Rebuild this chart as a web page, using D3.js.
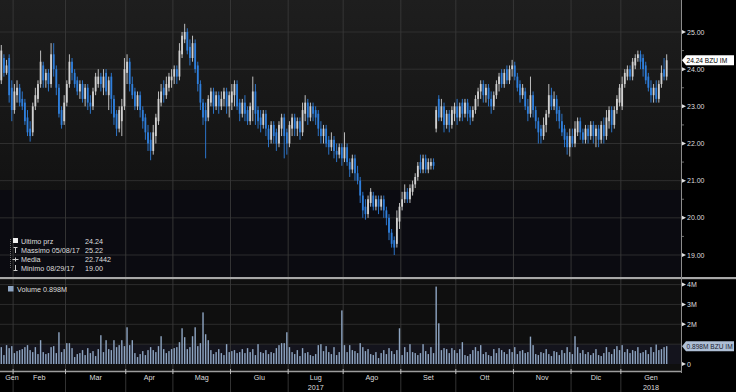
<!DOCTYPE html>
<html>
<head>
<meta charset="utf-8">
<script src="https://cdn.jsdelivr.net/npm/d3@7"></script>
<style>
  body { margin: 0; background: #000; }
  text { font-family: "Liberation Sans", Arial, sans-serif; font-size: 7.2px; fill: #dedede; }
</style>
</head>
<body>
<script>
// Dimensioni
const width = 736;
const height = 392;
const plotRight = 681;

// Giorni di chiusura della borsa (il resto sono giorni feriali)
const holidays = ["2017-04-14", "2017-04-17", "2017-05-01", "2017-08-15", "2017-12-25", "2017-12-26", "2018-01-01"];
const monthNames = ["Gen", "Feb", "Mar", "Apr", "Mag", "Giu", "Lug", "Ago", "Set", "Ott", "Nov", "Dic"];

// Prezzi giornalieri (gen 2017 -> gen 2018), un valore per seduta
const open = [
  23.7, 24.3, 23.9, 24.3, 23.5,
  22.9, 23.3, 23.5, 23.2, 23.1, 22.7, 22.4, 22.3, 23.0, 23.2, 23.6, 24.1, 23.7, 23.9, 23.6, 24.4, 24.0, 23.5, 22.9, 22.6,
  23.1, 23.6, 24.2, 23.9, 23.7, 23.4, 23.6, 23.2, 23.5, 23.1, 23.0, 23.4, 23.6, 23.8, 23.5, 23.9, 23.3, 23.8, 23.2, 22.8, 22.4, 22.6, 23.0,
  23.9, 24.2, 23.6, 23.4, 23.0, 23.3, 22.9, 22.7, 22.3, 22.1, 21.8, 22.2, 22.6, 23.1, 23.5, 23.3, 23.5, 23.7,
  23.8, 24.0, 23.8, 24.4, 24.8, 25.0, 24.6, 24.3, 24.7, 24.1, 23.6, 23.1, 22.9, 22.7, 23.1, 23.4, 23.0, 23.3, 23.0, 23.2, 23.4, 23.0,
  23.1, 23.3, 23.6, 23.1, 22.8, 23.1, 22.9, 22.6, 22.9, 23.4, 22.9, 22.7, 22.5, 22.8, 22.4, 22.1, 22.5, 22.3, 22.0, 22.4, 22.7, 22.3,
  22.0, 22.4, 22.7, 22.4, 22.6, 22.3, 22.8, 23.1, 22.7, 23.0, 22.9, 22.8, 22.4, 22.2, 22.4, 22.1, 21.9, 22.1, 21.8, 21.7, 21.9,
  21.6, 21.9, 21.5, 21.3, 21.6, 21.2, 21.0, 20.6, 20.3, 20.1, 20.4, 20.6, 20.3, 20.5, 20.3, 20.5, 20.2, 20.0, 19.6, 19.4, 19.3, 19.9,
  20.3, 20.5, 20.7, 20.5, 20.7, 20.9, 21.1, 21.5, 21.3, 21.6, 21.3, 21.4, 21.5, 22.4, 23.2, 22.7, 23.0, 22.5, 22.8, 22.5, 22.8,
  23.0, 22.7, 23.1, 22.8, 23.1, 22.9, 22.7, 22.9, 23.2, 23.4, 23.6, 23.3, 23.5, 23.2, 23.0, 23.3, 23.6, 23.9, 23.6, 24.0, 23.7, 24.0,
  24.1, 23.8, 23.6, 23.3, 23.4, 23.0, 22.8, 23.3, 22.9, 22.6, 22.4, 22.2, 22.5, 22.8, 23.3, 23.0, 23.2, 22.9, 22.6, 22.4, 22.2, 21.9,
  22.2, 22.0, 22.3, 22.6, 22.3, 22.1, 22.4, 22.2, 22.5, 22.2, 22.4, 22.1, 22.5, 22.2, 22.6, 22.9, 22.5, 22.9, 23.1,
  23.0, 23.6, 23.8, 24.0, 23.8, 24.1, 24.3, 24.4, 24.3, 24.1, 23.8, 23.5, 23.3, 23.5, 23.2, 23.6, 24.0, 23.8
];
const close = [
  24.5, 23.9, 24.1, 23.3, 22.9,
  23.4, 23.5, 23.1, 23.0, 22.6, 22.3, 22.2, 23.0, 23.3, 23.6, 24.2, 23.7, 23.9, 23.6, 24.4, 24.0, 23.5, 22.8, 22.5, 23.1,
  23.6, 24.2, 23.9, 23.6, 23.4, 23.6, 23.2, 23.5, 23.1, 23.0, 23.4, 23.8, 23.8, 23.6, 23.8, 23.4, 23.7, 23.2, 22.7, 22.4, 22.9, 23.0, 24.0,
  24.2, 23.6, 23.3, 23.0, 23.3, 22.9, 22.6, 22.3, 22.0, 21.8, 22.3, 22.7, 23.2, 23.4, 23.3, 23.6, 23.8, 23.8,
  24.0, 23.8, 24.5, 24.9, 25.0, 24.5, 24.3, 24.7, 24.0, 23.6, 23.1, 22.7, 22.6, 23.2, 23.4, 23.0, 23.3, 23.0, 23.2, 23.4, 23.0, 23.3,
  23.4, 23.6, 23.0, 22.8, 23.1, 22.8, 22.6, 23.0, 23.4, 22.8, 22.6, 22.5, 22.8, 22.4, 22.1, 22.5, 22.2, 22.0, 22.5, 22.7, 22.2, 22.0,
  22.5, 22.7, 22.4, 22.6, 22.3, 22.9, 23.1, 22.7, 23.0, 22.8, 22.7, 22.4, 22.2, 22.4, 22.0, 21.9, 22.1, 21.8, 21.7, 21.9, 21.6,
  21.9, 21.5, 21.3, 21.6, 21.2, 21.0, 20.6, 20.2, 20.1, 20.5, 20.7, 20.3, 20.5, 20.3, 20.5, 20.2, 20.0, 19.6, 19.3, 19.2, 20.0, 20.3,
  20.5, 20.7, 20.5, 20.8, 20.9, 21.1, 21.4, 21.3, 21.6, 21.3, 21.5, 21.5, 21.4, 22.9, 22.7, 23.0, 22.5, 22.8, 22.5, 22.9, 23.0,
  22.7, 23.0, 22.8, 23.1, 22.8, 22.7, 22.9, 23.2, 23.4, 23.6, 23.3, 23.5, 23.2, 23.0, 23.3, 23.6, 23.8, 23.6, 23.9, 23.7, 24.0, 24.1,
  23.8, 23.5, 23.3, 23.5, 23.0, 22.8, 23.3, 22.9, 22.6, 22.3, 22.2, 22.5, 22.8, 23.3, 23.0, 23.2, 22.8, 22.6, 22.3, 22.1, 21.9, 22.2,
  22.0, 22.4, 22.6, 22.3, 22.1, 22.4, 22.2, 22.5, 22.2, 22.4, 22.1, 22.5, 22.2, 22.7, 22.9, 22.5, 22.9, 23.2, 23.5,
  23.6, 23.9, 24.0, 23.8, 24.2, 24.3, 24.4, 24.2, 24.0, 23.7, 23.5, 23.3, 23.5, 23.2, 23.6, 23.9, 23.8, 24.24
];
const high = [
  24.65, 24.4, 24.25, 24.4, 23.7,
  23.6, 23.7, 23.6, 23.4, 23.2, 22.9, 22.6, 23.1, 23.5, 23.7, 24.5, 24.2, 24.0, 24.0, 24.7, 24.7, 24.1, 23.6, 23.0, 23.3,
  23.7, 24.4, 24.3, 24.0, 23.8, 23.7, 23.7, 23.6, 23.6, 23.3, 23.5, 23.9, 24.0, 23.9, 24.0, 24.0, 23.8, 23.9, 23.3, 22.9, 23.0, 23.2, 24.3,
  24.4, 24.3, 23.8, 23.5, 23.4, 23.4, 23.0, 22.8, 22.5, 22.3, 22.5, 22.8, 23.4, 23.6, 23.7, 23.8, 23.9, 24.0,
  24.1, 24.1, 24.7, 25.0, 25.22, 25.1, 24.8, 24.9, 24.8, 24.2, 23.7, 23.2, 23.1, 23.3, 23.5, 23.5, 23.4, 23.4, 23.4, 23.5, 23.5, 23.4,
  23.6, 23.7, 23.7, 23.2, 23.2, 23.3, 23.0, 23.1, 23.8, 23.6, 23.0, 22.9, 22.9, 22.9, 22.5, 22.6, 22.6, 22.4, 22.6, 22.8, 22.8, 22.4,
  22.6, 22.8, 22.8, 22.7, 22.7, 23.1, 23.3, 23.2, 23.1, 23.1, 23.0, 22.9, 22.6, 22.5, 22.5, 22.2, 22.3, 22.2, 22.0, 22.0, 22.0,
  22.3, 22.0, 21.6, 21.7, 21.7, 21.4, 21.1, 20.7, 20.5, 20.6, 20.8, 20.7, 20.6, 20.6, 20.6, 20.6, 20.3, 20.1, 19.7, 19.5, 20.2, 20.4,
  20.7, 20.9, 20.8, 20.9, 21.0, 21.2, 21.5, 21.7, 21.7, 21.7, 21.6, 21.6, 21.6, 23.0, 23.3, 23.2, 23.1, 22.9, 22.9, 23.0, 23.1,
  23.2, 23.1, 23.2, 23.2, 23.2, 23.0, 23.0, 23.3, 23.5, 23.7, 23.7, 23.6, 23.6, 23.4, 23.4, 23.7, 23.9, 24.0, 24.0, 24.1, 24.1, 24.25,
  24.2, 23.9, 23.7, 23.6, 23.5, 23.2, 23.8, 23.4, 23.0, 22.7, 22.5, 22.7, 22.9, 23.6, 23.5, 23.4, 23.3, 23.0, 22.8, 22.5, 22.3, 22.4,
  22.4, 22.6, 22.7, 22.7, 22.4, 22.5, 22.5, 22.6, 22.6, 22.5, 22.5, 22.6, 22.7, 22.9, 23.0, 23.0, 23.0, 23.3, 23.6,
  23.8, 24.0, 24.1, 24.1, 24.3, 24.4, 24.5, 24.5, 24.4, 24.2, 23.9, 23.7, 23.6, 23.7, 23.7, 24.1, 24.3, 24.4
];
const low = [
  23.6, 23.8, 23.85, 23.1, 22.6,
  22.8, 23.1, 23.0, 22.9, 22.5, 22.2, 22.05, 22.2, 22.9, 23.1, 23.5, 23.5, 23.5, 23.4, 23.5, 23.8, 23.3, 22.7, 22.4, 22.5,
  23.0, 23.5, 23.7, 23.5, 23.3, 23.2, 23.1, 23.0, 22.9, 22.8, 22.9, 23.3, 23.5, 23.4, 23.3, 23.3, 22.9, 22.8, 22.5, 22.2, 22.3, 22.2, 22.9,
  23.6, 23.4, 23.2, 22.9, 22.9, 22.7, 22.4, 22.1, 21.8, 21.55, 21.7, 22.0, 22.5, 23.0, 23.1, 23.2, 23.4, 23.5,
  23.6, 23.6, 23.7, 24.3, 24.7, 24.4, 24.1, 24.2, 23.9, 23.4, 22.9, 22.5, 21.6, 22.6, 23.0, 22.8, 22.9, 22.8, 22.9, 23.0, 22.8, 22.7,
  22.9, 23.0, 22.9, 22.6, 22.7, 22.6, 22.5, 22.5, 22.6, 22.5, 22.4, 22.3, 22.4, 22.2, 21.9, 22.0, 22.0, 21.8, 21.9, 22.2, 21.6, 21.7,
  21.9, 22.2, 22.2, 22.2, 22.1, 22.2, 22.6, 22.5, 22.6, 22.6, 22.5, 22.2, 22.0, 22.0, 21.9, 21.7, 21.8, 21.6, 21.5, 21.6, 21.4,
  21.5, 21.4, 21.1, 21.2, 21.0, 20.9, 20.4, 20.0, 19.95, 20.0, 20.3, 20.2, 20.2, 20.1, 20.2, 20.0, 19.8, 19.4, 19.2, 19.0, 19.2, 19.7,
  20.2, 20.4, 20.4, 20.4, 20.6, 20.8, 21.0, 21.2, 21.2, 21.2, 21.2, 21.3, 21.3, 22.3, 22.6, 22.6, 22.3, 22.4, 22.3, 22.4, 22.6,
  22.5, 22.6, 22.6, 22.7, 22.6, 22.5, 22.6, 22.8, 23.0, 23.2, 23.1, 23.1, 23.0, 22.8, 22.9, 23.2, 23.4, 23.5, 23.5, 23.6, 23.6, 23.8,
  23.7, 23.4, 23.1, 23.2, 22.9, 22.6, 22.7, 22.7, 22.4, 22.0, 22.0, 22.1, 22.3, 22.7, 22.9, 22.9, 22.6, 22.4, 22.2, 21.9, 21.7, 21.65,
  21.9, 21.9, 22.2, 22.1, 22.0, 22.0, 22.0, 22.1, 22.0, 21.9, 21.9, 22.0, 22.0, 22.1, 22.4, 22.3, 22.4, 22.8, 23.0,
  22.9, 23.5, 23.7, 23.7, 23.7, 24.0, 24.2, 24.0, 23.8, 23.6, 23.4, 23.1, 23.1, 23.1, 23.1, 23.5, 23.7, 23.7
];
// Volumi in milioni
const volume = [
  0.85, 0.45, 0.95, 0.8, 0.9,
  0.55, 0.65, 0.7, 0.75, 0.85, 0.95, 0.7, 0.6, 0.85, 0.5, 1.2, 0.6, 0.5, 0.55, 0.85, 0.9, 0.55, 1.6, 0.6, 0.75,
  1.05, 1.05, 0.8, 0.35, 0.5, 0.55, 0.7, 0.45, 0.8, 0.55, 0.65, 0.4, 0.75, 1.45, 0.6, 1.2, 0.75, 0.7, 1.2, 0.85, 0.95, 1.2, 0.9,
  1.85, 0.95, 1.2, 0.55, 0.35, 0.5, 0.65, 0.45, 0.7, 0.85, 0.7, 0.6, 0.9, 1.4, 0.75, 0.55, 0.65, 0.75,
  0.8, 0.85, 1.1, 1.8, 1.35, 0.75, 0.85, 1.4, 1.85, 0.9, 1.05, 2.6, 1.5, 1.2, 0.7, 0.5, 0.6, 0.75, 0.55, 0.45, 1.0, 0.6,
  0.65, 0.7, 0.55, 0.6, 0.75, 0.55, 0.8, 0.6, 0.75, 0.45, 1.0, 0.6, 0.55, 0.7, 0.5, 0.6, 0.55, 0.8, 0.95, 1.05, 1.05, 1.6,
  0.85, 0.6, 0.5, 0.7, 0.4, 0.8, 0.55, 0.6, 0.45, 0.4, 0.5, 0.95, 1.0, 0.65, 0.9, 0.6, 0.5, 0.85, 0.45, 0.6, 2.7,
  0.95, 0.6, 0.95, 0.7, 0.65, 0.55, 1.05, 0.85, 0.65, 0.75, 0.5, 0.45, 0.6, 0.3, 0.55, 0.7, 0.5, 0.8, 0.65, 0.5, 0.7, 1.8,
  0.45, 0.85, 0.6, 1.0, 0.6, 0.55, 0.45, 0.55, 1.0, 0.65, 0.5, 0.85, 0.55, 3.9, 2.05, 0.7, 0.8, 0.75, 0.55, 0.8, 0.7,
  0.55, 0.75, 1.1, 0.45, 0.4, 0.5, 0.7, 0.85, 0.65, 0.95, 0.5, 0.6, 0.45, 0.4, 0.75, 0.55, 0.8, 0.7, 0.6, 0.5, 0.75, 0.6,
  0.85, 0.5, 0.65, 0.7, 0.55, 0.6, 1.38, 0.95, 0.5, 0.45, 0.6, 0.55, 0.75, 0.5, 0.4, 0.65, 0.6, 0.45, 0.7, 0.55, 0.85, 0.6,
  0.5, 1.4, 0.85, 0.55, 0.7, 0.5, 0.6, 0.45, 0.55, 0.75, 0.45, 0.4, 0.55, 0.85, 0.6, 0.5, 0.75, 0.9, 0.7,
  0.95, 0.6, 0.75, 0.55, 0.7, 0.65, 0.85, 0.55, 0.6, 0.7, 0.5, 0.85, 0.6, 0.98, 0.7, 0.75, 0.85, 0.898
];

// Tick e legende
const priceTicks = [19, 20, 21, 22, 23, 24, 25];
const priceMinorTicks = [19.5, 20.5, 21.5, 22.5, 23.5, 24.5];
const volGrid = [1, 2, 3, 4];
const volTicks = [0, 2, 3, 4];
const legendRows = [
  { label: "Ultimo prz", value: "24.24" },
  { label: "Massimo 05/08/17", value: "25.22" },
  { label: "Media", value: "22.7442" },
  { label: "Minimo 08/29/17", value: "19.00" }
];
const lastPrice = 24.24;
const lastVolume = 0.898;

// Sedute: giorni feriali esclusi i festivi
const fmt = d3.timeFormat("%Y-%m-%d");
const dates = d3.timeDay.range(new Date(2017, 0, 25), new Date(2018, 0, 26))
  .filter(d => d.getDay() > 0 && d.getDay() < 6 && !holidays.includes(fmt(d)));
const bars = dates.map((d, i) => ({
  date: d, o: open[i], c: close[i], h: high[i], l: low[i], v: volume[i]
}));

// Scale
const x = d3.scaleBand().domain(dates).range([0, 668]);
const bw = x.bandwidth();
const cx = d => x(d.date) + bw / 2;
const y = d3.scaleLinear().domain([19, 25]).range([255, 32]);
const yv = d3.scaleLinear().domain([0, 4]).range([364, 284.6]);

const svg = d3.select("body").append("svg")
  .attr("width", width)
  .attr("height", height);

// Sfondi dei pannelli
const defs = svg.append("defs");
const grad = defs.append("linearGradient").attr("id", "bgPrice")
  .attr("x1", 0).attr("x2", 0).attr("y1", 0).attr("y2", 1);
grad.append("stop").attr("offset", "0%").attr("stop-color", "#1e1e1e");
grad.append("stop").attr("offset", "100%").attr("stop-color", "#121212");

svg.append("rect").attr("x", 0).attr("y", 0).attr("width", width).attr("height", height).attr("fill", "#000");
svg.append("rect").attr("x", 0).attr("y", 0).attr("width", plotRight).attr("height", 190).attr("fill", "url(#bgPrice)");
svg.append("rect").attr("x", 0).attr("y", 190).attr("width", plotRight).attr("height", 87).attr("fill", "#0b0b11");
svg.append("rect").attr("x", 0).attr("y", 280).attr("width", plotRight).attr("height", 91).attr("fill", "#0f0f0f");
svg.append("rect").attr("x", 0).attr("y", yv(1)).attr("width", plotRight).attr("height", yv(0) - yv(1)).attr("fill", "#14141d");

// Griglia orizzontale
svg.append("g").selectAll("line").data(priceTicks).join("line")
  .attr("x1", 0).attr("x2", plotRight)
  .attr("y1", d => y(d)).attr("y2", d => y(d))
  .attr("stroke", "#363636").attr("stroke-width", 0.8);
svg.append("g").selectAll("line").data(volGrid).join("line")
  .attr("x1", 0).attr("x2", plotRight)
  .attr("y1", d => yv(d)).attr("y2", d => yv(d))
  .attr("stroke", "#333").attr("stroke-width", 0.8);

// Inizio di ogni mese
const months = [];
dates.forEach((d, i) => {
  if (i === 0 || d.getMonth() !== dates[i - 1].getMonth()) months.push({ start: i, date: d });
});
months.forEach((m, k) => {
  m.x0 = x(m.date);
  m.x1 = k < months.length - 1 ? x(months[k + 1].date) : plotRight;
});

// Griglia verticale (da cima a fondo)
svg.append("g").selectAll("line").data(months.slice(1)).join("line")
  .attr("x1", d => d.x0).attr("x2", d => d.x0)
  .attr("y1", 0).attr("y2", height)
  .attr("stroke", "#393939").attr("stroke-width", 0.9);

// Candele
const up = "#d0d0d0", down = "#2f7fdc";
const candles = svg.append("g").selectAll("g").data(bars).join("g");
candles.append("line")
  .attr("x1", cx).attr("x2", cx)
  .attr("y1", d => y(d.h)).attr("y2", d => y(d.l))
  .attr("stroke", d => d.c >= d.o ? up : down).attr("stroke-width", 0.9);
candles.append("rect")
  .attr("x", d => cx(d) - 0.9).attr("width", 1.8)
  .attr("y", d => y(Math.max(d.o, d.c)))
  .attr("height", d => Math.max(1, Math.abs(y(d.o) - y(d.c))))
  .attr("fill", d => d.c >= d.o ? up : down);

// Volumi
svg.append("g").selectAll("rect").data(bars).join("rect")
  .attr("x", d => cx(d) - 0.7).attr("width", 1.4)
  .attr("y", d => yv(d.v)).attr("height", d => yv(0) - yv(d.v))
  .attr("fill", "#8ea5c2");

// Assi
svg.append("rect").attr("x", 0).attr("y", 277).attr("width", width).attr("height", 2.2).attr("fill", "#a8a8a8");
svg.append("line").attr("x1", plotRight + 0.5).attr("x2", plotRight + 0.5).attr("y1", 0).attr("y2", 373)
  .attr("stroke", "#8c8c8c").attr("stroke-width", 1);
svg.append("line").attr("x1", 0).attr("x2", plotRight).attr("y1", 371.5).attr("y2", 371.5)
  .attr("stroke", "#9c9c9c").attr("stroke-width", 1.5);
svg.append("g").selectAll("line").data(months.slice(1)).join("line")
  .attr("x1", d => d.x0).attr("x2", d => d.x0).attr("y1", 369).attr("y2", 374)
  .attr("stroke", "#bbb").attr("stroke-width", 1);

// Etichette asse destro
const tri = yy => `M${plotRight + 1},${yy - 2}L${plotRight + 5},${yy}L${plotRight + 1},${yy + 2}Z`;
const pAxis = svg.append("g");
pAxis.selectAll("path").data(priceTicks).join("path").attr("d", d => tri(y(d))).attr("fill", "#e0e0e0");
pAxis.selectAll("text").data(priceTicks).join("text")
  .attr("x", plotRight + 6).attr("y", d => y(d) + 2.6)
  .style("font-size", "7px")
  .text(d3.format(".2f"));
svg.append("g").selectAll("line").data(priceMinorTicks).join("line")
  .attr("x1", plotRight + 1).attr("x2", plotRight + 3)
  .attr("y1", d => y(d)).attr("y2", d => y(d))
  .attr("stroke", "#888").attr("stroke-width", 0.8);

const vAxis = svg.append("g");
vAxis.selectAll("path").data(volTicks).join("path").attr("d", d => tri(yv(d))).attr("fill", "#e0e0e0");
vAxis.selectAll("text").data(volTicks).join("text")
  .attr("x", plotRight + 6).attr("y", d => yv(d) + 2.6)
  .style("font-size", "7px")
  .text(d => d === 0 ? "0" : d + "M");

// Etichette ultimo valore
function lastLabel(yy, txt, fill, color) {
  svg.append("path")
    .attr("d", `M${plotRight + 1},${yy}L${plotRight + 5},${yy - 5}L734,${yy - 5}L734,${yy + 5}L${plotRight + 5},${yy + 5}Z`)
    .attr("fill", fill);
  svg.append("text").attr("x", plotRight + 5.5).attr("y", yy + 2.5)
    .style("fill", color).style("font-size", "6.6px").text(txt);
}
lastLabel(y(lastPrice), lastPrice.toFixed(2) + " BZU IM", "#ffffff", "#000");
lastLabel(yv(lastVolume), lastVolume.toFixed(3) + "M BZU IM", "#aebfd5", "#1a2233");

// Etichette mesi
svg.append("g").selectAll("text").data(months).join("text")
  .attr("x", d => Math.max(12, (d.x0 + d.x1) / 2))
  .attr("y", 380)
  .attr("text-anchor", "middle")
  .text(d => monthNames[d.date.getMonth()]);
svg.append("g").selectAll("text")
  .data(months.filter(d => d.date.getMonth() === 6 || (d.date.getMonth() === 0 && d.date.getFullYear() === 2018)))
  .join("text")
  .attr("x", d => (d.x0 + d.x1) / 2)
  .attr("y", 389.5)
  .attr("text-anchor", "middle")
  .text(d => d.date.getFullYear());

// Legenda prezzi
const leg = svg.append("g");
leg.append("line").attr("x1", 10.5).attr("x2", 10.5).attr("y1", 239).attr("y2", 269)
  .attr("stroke", "#666").attr("stroke-dasharray", "1,1");
leg.selectAll("text.lbl").data(legendRows).join("text").attr("class", "lbl")
  .attr("x", 21).attr("y", (d, i) => 243.5 + i * 9).text(d => d.label);
leg.selectAll("text.val").data(legendRows).join("text").attr("class", "val")
  .attr("x", 85).attr("y", (d, i) => 243.5 + i * 9).text(d => d.value);
// icone
leg.append("rect").attr("x", 13).attr("y", 238).attr("width", 5).attr("height", 5).attr("fill", "#f0f0f0");
leg.append("path").attr("d", "M13.5,247.5H17.5M15.5,247.5V253").attr("stroke", "#ccc").attr("fill", "none");
leg.append("path").attr("d", "M12.5,259.5H18.5M15.5,257.5V261.5").attr("stroke", "#ccc").attr("fill", "none");
leg.append("path").attr("d", "M15.5,265V270.5M13.5,270.5H17.5").attr("stroke", "#ccc").attr("fill", "none");

// Legenda volumi
svg.append("rect").attr("x", 8).attr("y", 286).attr("width", 5.5).attr("height", 5.5).attr("fill", "#8ea5c2");
svg.append("text").attr("x", 17).attr("y", 291.5).text("Volume " + lastVolume.toFixed(3) + "M");
</script>
</body>
</html>
